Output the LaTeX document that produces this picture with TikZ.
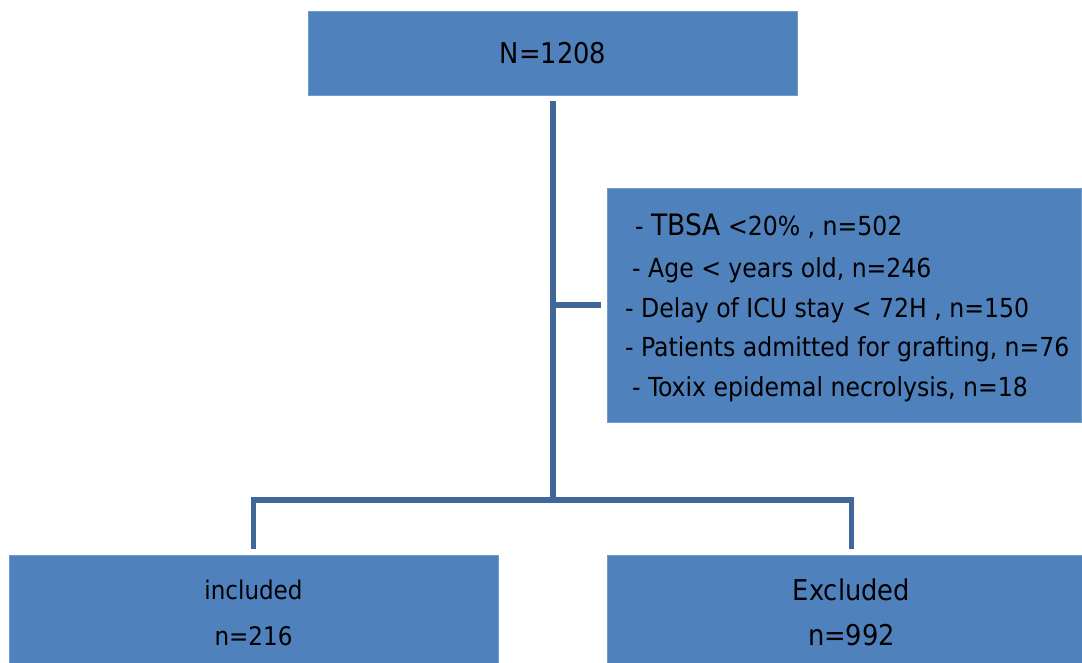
\documentclass[tikz,border=0pt]{standalone}
\usepackage{fontspec}
\setmainfont{DejaVu Sans Condensed}
\usepackage{tikz}
\definecolor{boxblue}{HTML}{4F81BD}
\definecolor{linkblue}{HTML}{41679A}
\tikzset{
  flowbox/.style={rectangle, fill=boxblue, draw=boxblue!80!white, line width=0.8pt, inner sep=0pt},
  link/.style={draw=linkblue, line width=5.5pt},
  crittext/.style={anchor=base west, inner sep=0pt, font=\fontsize{26.2}{30}\selectfont},
  boxtext/.style={anchor=base, inner sep=0pt}
}

\begin{document}
\begin{tikzpicture}[x=1pt, y=-1pt]
			\useasboundingbox (0,0) rectangle (1082,662);
			% boxes
			\node[flowbox, minimum width=489pt, minimum height=84pt] (total) at (553,53) {};
			\node[flowbox, minimum width=474pt, minimum height=234pt] (crit) at (844,305) {};
			\node[flowbox, minimum width=489pt, minimum height=115pt] (inc) at (253.5,613) {};
			\node[flowbox, minimum width=489pt, minimum height=115pt] (exc) at (851.5,613) {};
			% texts
			\node[boxtext, font=\fontsize{28.6}{32}\selectfont] (ntot) at (553,63) {N=1208};
			\node[crittext] (c1) at (635,235) {- {\fontsize{29.5}{32}\selectfont TBSA} <20\% , n=502};
			\node[crittext] (c2) at (632,277) {- Age < years old, n=246};
			\node[crittext] (c3) at (625,317) {- Delay of ICU stay < 72H , n=150};
			\node[crittext] (c4) at (625,356) {- Patients admitted for grafting, n=76};
			\node[crittext] (c5) at (632,396) {- Toxix epidemal necrolysis, n=18};
			\node[boxtext, font=\fontsize{25.6}{30}\selectfont] (inc1) at (253.5,599) {included};
			\node[boxtext, font=\fontsize{25.6}{30}\selectfont] (inc2) at (253.5,645) {n=216};
			\node[boxtext, font=\fontsize{28.6}{32}\selectfont] (exc1) at (851.5,600) {Excluded};
			\node[boxtext, font=\fontsize{28.6}{32}\selectfont] (exc2) at (851.5,645) {n=992};
			% connectors
			\coordinate (side) at (553,305);
			\coordinate (split) at (553,500);
			\draw[link, shorten <=6pt] (total.south) -- (split);
			\draw[link, shorten >=6pt] (side) -- (crit.west);
			\draw[link, shorten >=6pt] (split) -| (inc.north);
			\draw[link, shorten >=6pt] (split) -| (exc.north);
		\end{tikzpicture}
\end{document}
